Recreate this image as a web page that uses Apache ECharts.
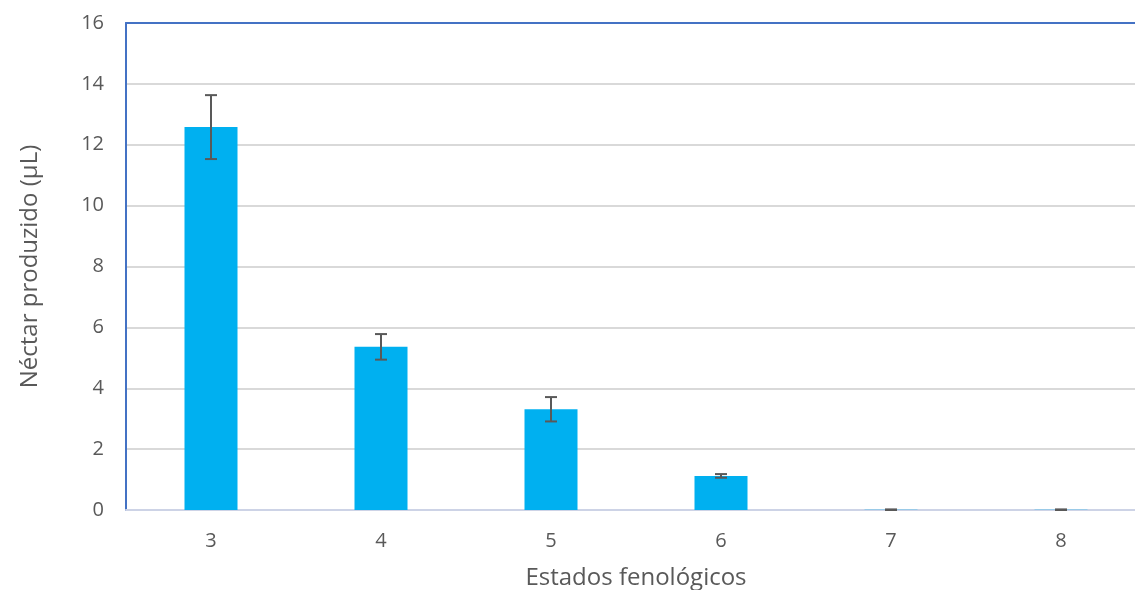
<!DOCTYPE html>
<html><head><meta charset="utf-8">
<script src="https://cdn.jsdelivr.net/npm/echarts@6/dist/echarts.min.js"></script>
<style>html,body{margin:0;padding:0;background:#fff;overflow:hidden;width:1135px;height:590px}#c{position:absolute;left:0;top:0;width:1135px;height:590px}</style>
</head><body><div id="c"></div>
<script>
const categories = ['3','4','5','6','7','8'];
const values = [12.58, 5.36, 3.31, 1.12, 0.01, 0.01];
const errors = [1.05, 0.42, 0.40, 0.06, 0.01, 0.01];
const yTicks = [0, 2, 4, 6, 8, 10, 12, 14, 16];

const chart = echarts.init(document.getElementById('c'));
const font = '"Open Sans", "Liberation Sans", sans-serif';
chart.setOption({
  animation: false,
  grid: { left: 126, top: 23, width: 1020, height: 487, containLabel: false, outerBoundsMode: 'none' },
  xAxis: [{
    type: 'category', data: categories,
    axisLine: { lineStyle: { color: '#CDD3E6', width: 2 } },
    axisTick: { show: false },
    axisLabel: { color: '#595959', fontSize: 20, fontFamily: font, margin: 21 },
    name: 'Estados fenológicos', nameLocation: 'middle', nameGap: 56,
    nameTextStyle: { color: '#595959', fontSize: 24, fontFamily: font }
  }, {
    type: 'category', data: categories, position: 'top',
    axisLine: { show: true, lineStyle: { color: '#4472C4', width: 2 } },
    axisTick: { show: false }, axisLabel: { show: false }
  }],
  yAxis: {
    type: 'value', min: yTicks[0], max: yTicks[yTicks.length - 1], interval: 2,
    axisLine: { show: true, lineStyle: { color: '#4472C4', width: 2 } },
    axisTick: { show: false },
    splitLine: { lineStyle: { color: '#D9D9D9', width: 2 } },
    axisLabel: { color: '#595959', fontSize: 20, fontFamily: font, margin: 22 },
    name: 'Néctar produzido (µL)', nameLocation: 'middle', nameGap: 84, nameRotate: 90,
    nameTextStyle: { color: '#595959', fontSize: 24, fontFamily: font }
  },
  series: [{
    type: 'bar', data: values, barWidth: 53,
    itemStyle: { color: '#00B0F0' }
  }, {
    type: 'custom',
    data: categories.map((c, i) => [i, values[i] - errors[i], values[i] + errors[i]]),
    renderItem: function (params, api) {
      const lo = api.coord([api.value(0), api.value(1)]);
      const hi = api.coord([api.value(0), api.value(2)]);
      const x = lo[0], hw = 6;
      const style = { stroke: '#595959', lineWidth: 2 };
      return { type: 'group', children: [
        { type: 'line', shape: { x1: x, y1: lo[1], x2: x, y2: hi[1] }, style },
        { type: 'line', shape: { x1: x - hw, y1: lo[1], x2: x + hw, y2: lo[1] }, style },
        { type: 'line', shape: { x1: x - hw, y1: hi[1], x2: x + hw, y2: hi[1] }, style }
      ]};
    },
    z: 10
  }]
});
</script></body></html>
